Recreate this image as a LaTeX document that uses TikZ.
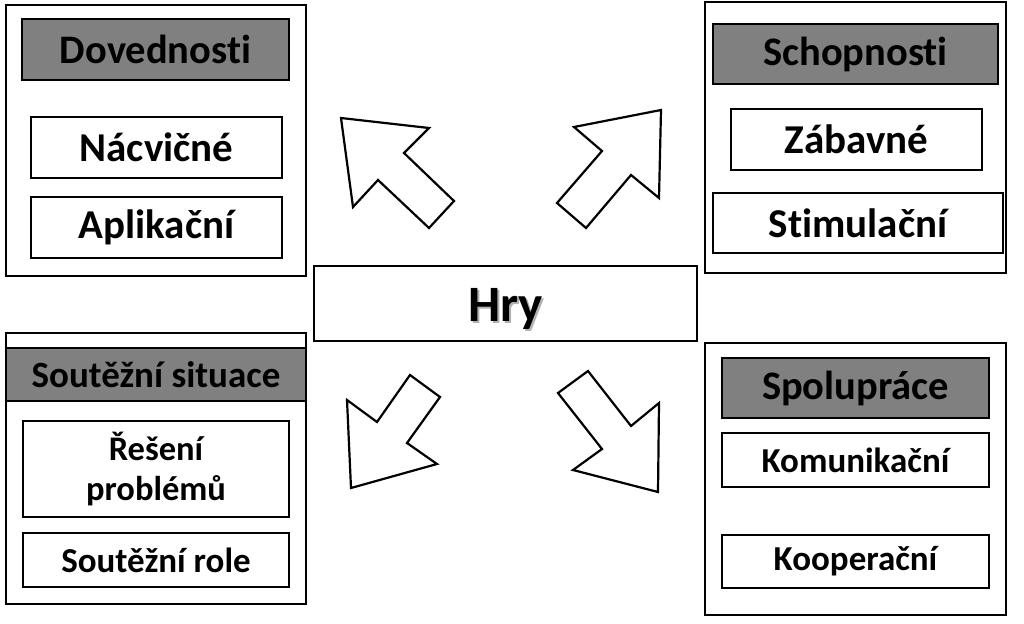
\documentclass[tikz,border=0pt]{standalone}
\usepackage{fontspec}
\setmainfont{Carlito}[Ligatures=NoCommon]
\definecolor{headgray}{HTML}{808080}
\tikzset{
  outerbox/.style={draw=black, line width=2.2pt, fill=white, inner sep=0pt},
  headbox/.style={draw=black, line width=2.2pt, fill=headgray, inner sep=0pt, font=\bfseries\fontsize{40.5}{44}\selectfont},
  itembox/.style={draw=black, line width=2.2pt, fill=white, inner sep=0pt, font=\bfseries\fontsize{41}{44}\selectfont},
  smallitem/.style={draw=black, line width=2.2pt, fill=white, inner sep=0pt, font=\bfseries\fontsize{35}{40}\selectfont, align=center},
  blockarrow/.style={draw=black, line width=2.2pt, fill=white, line join=miter},
}
\newcommand{\shadowtext}[1]{\makebox[0pt][l]{\hspace{2pt}\raisebox{-2pt}{\textcolor{black!30}{#1}}}#1}
\begin{document}
\begin{tikzpicture}[x=1pt,y=-1pt]
\useasboundingbox (0,0) rectangle (1024,623);
\fill[white] (0,0) rectangle (1024,623);
% Dovednosti
\node[outerbox, minimum width=300pt, minimum height=271pt] (dovo) at (156,140.5) {};
\node[headbox, minimum width=267pt, minimum height=61pt] (dovh) at (155.5,49.5) {Dovednosti};
\node[itembox, minimum width=251pt, minimum height=61pt] (nacv) at (156.5,147.5) {Nácvičné};
\node[itembox, minimum width=251pt, minimum height=61pt] (apl) at (156.5,227.5) {Aplikační};
% Schopnosti
\node[outerbox, minimum width=301pt, minimum height=271pt] (scho) at (855.5,137.5) {};
\node[headbox, minimum width=285pt, minimum height=60pt] (schh) at (855.5,54) {Schopnosti};
\node[itembox, minimum width=251pt, minimum height=61pt] (zab) at (856.5,139.5) {Zábavné};
\node[itembox, minimum width=290pt, minimum height=60pt] (stim) at (858,223) {Stimulační};
% Soutezni situace
\node[outerbox, minimum width=300pt, minimum height=271pt] (souo) at (156,468.5) {};
\node[headbox, font=\bfseries\fontsize{37}{40}\selectfont, minimum width=300pt, minimum height=53pt] (souh) at (156,374.5) {Soutěžní situace};
\node[smallitem, font=\bfseries\fontsize{34.5}{40}\selectfont, minimum width=266pt, minimum height=96pt] (res) at (156,469) {Řešení\\problémů};
\node[smallitem, minimum width=266pt, minimum height=54pt] (role) at (156,560) {Soutěžní role};
% Spoluprace
\node[outerbox, minimum width=301pt, minimum height=272pt] (spoo) at (855.5,479) {};
\node[headbox, minimum width=267pt, minimum height=60pt] (spoh) at (855.5,388) {Spolupráce};
\node[smallitem, minimum width=267pt, minimum height=54pt] (kom) at (855.5,460) {Komunikační};
\node[smallitem, minimum width=267pt, minimum height=53pt] (koop) at (855.5,561.5) {Kooperační};
% Hry
\node[outerbox, minimum width=383pt, minimum height=75pt] (hry) at (505.5,303.5) {};
\node[font=\bfseries\fontsize{51}{54}\selectfont, inner sep=0pt, anchor=base] (hryt) at (505.5,321) {\shadowtext{Hry}};
% Arrows
\draw[blockarrow] (341,118) -- (429,128) -- (404,153) -- (454,201) -- (429,228) -- (378,180) -- (353,207) -- cycle;
\draw[blockarrow] (661,110) -- (659,198) -- (631,175) -- (586,228) -- (557,203) -- (602,151) -- (574,127) -- cycle;
\draw[blockarrow] (351,488) -- (347,400) -- (377,422) -- (410,375) -- (440,397) -- (407,443) -- (437,464) -- cycle;
\draw[blockarrow] (658,492) -- (573,470) -- (602,449) -- (558,393) -- (588,371) -- (631,426) -- (659,403) -- cycle;
\end{tikzpicture}
\end{document}
